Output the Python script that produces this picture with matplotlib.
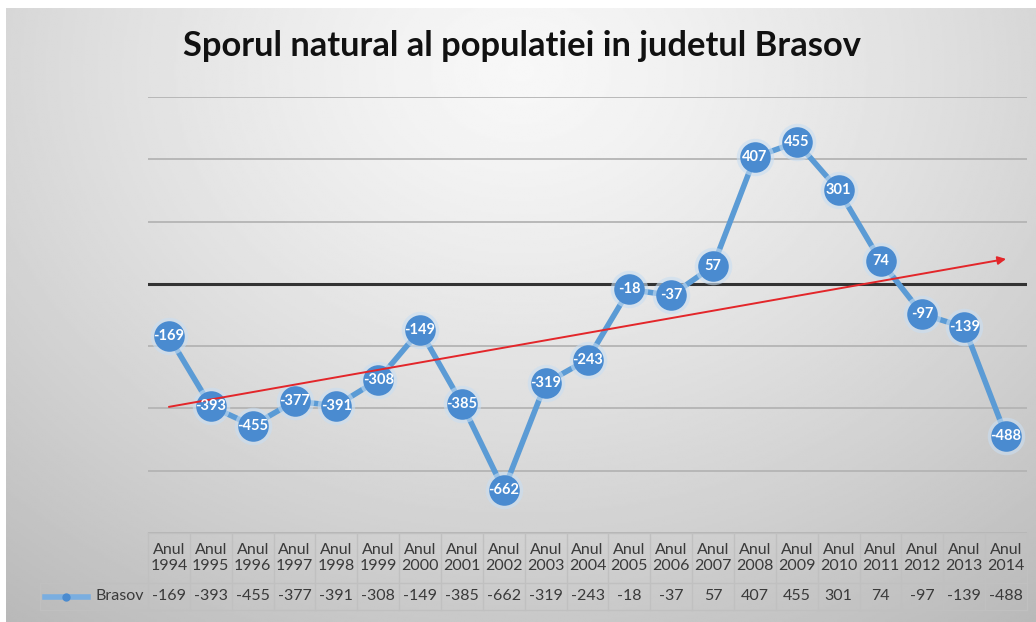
import numpy as np
import matplotlib.pyplot as plt
from matplotlib.transforms import blended_transform_factory
from matplotlib.lines import Line2D

plt.rcParams['font.family'] = ['Lato', 'DejaVu Sans']

TITLE = 'Sporul natural al populatiei in judetul Brasov'
SERIES_NAME = 'Brasov'
years = list(range(1994, 2015))
values = [-169, -393, -455, -377, -391, -308, -149, -385, -662, -319, -243,
          -18, -37, 57, 407, 455, 301, 74, -97, -139, -488]
y_gridlines = [-800, -600, -400, -200, 0, 200, 400, 600]
# hand drawn red arrow in the original, start and end values
trend_start = -395
trend_end = 80

W, H = 1036, 622
fig = plt.figure(figsize=(W / 100, H / 100), dpi=100)
fig.patch.set_facecolor('white')

# radial grey gradient behind the chart
bg = fig.add_axes([6 / W, 0, 1 - 6 / W, 1 - 8 / H])
yy, xx = np.mgrid[0:1:300j, 0:1:500j]
r = np.sqrt(((xx - 0.5) * 1.15) ** 2 + ((yy - 0.1) * 0.85) ** 2)
shade = 0.97 - 0.26 * np.clip(r, 0, 1) ** 1.3
bg.imshow(shade, cmap='gray', vmin=0, vmax=1, aspect='auto', extent=(0, 1, 1, 0))
bg.set_xlim(0, 1)
bg.set_ylim(1, 0)
bg.axis('off')

# plot area in pixels: x 148..1027, y 97..533
ax = fig.add_axes([148 / W, 1 - 533 / H, (1027 - 148) / W, (533 - 97) / H])
ax.patch.set_alpha(0)
for s in ax.spines.values():
    s.set_visible(False)
ax.set_xlim(-0.5, len(years) - 0.5)
ax.set_ylim(-800, 600)
ax.set_yticks(y_gridlines)
ax.set_xticks([])
ax.tick_params(left=False, labelleft=False)
ax.yaxis.grid(True, color='#b4b4b4', lw=1.3)
ax.set_axisbelow(True)
ax.axhline(0, color='#333333', lw=2.2, zorder=1)

x = np.arange(len(years))
ax.plot(x, values, color='#5b9bd5', lw=4, zorder=2, solid_capstyle='round')
ax.plot(x, values, 'o', ms=27, color='#c9def2', alpha=0.6, mec='none', zorder=3)
ax.plot(x, values, 'o', ms=22, color='#4a8bd0', mec='none', zorder=4)
for xi, v in zip(x, values):
    ax.text(xi, v, str(v), ha='center', va='center', color='white',
            fontsize=10.5, fontweight='bold', zorder=6)

ax.annotate('', xy=(len(years) - 1, trend_end), xytext=(0, trend_start),
            arrowprops=dict(arrowstyle='-|>', color='#e3262a', lw=1.4,
                            mutation_scale=12, shrinkA=0, shrinkB=0),
            zorder=5)

fig.text(522 / W, 1 - 46 / H, TITLE, ha='center', va='center',
         fontsize=24.8, fontweight='bold', color='#111111')

# data table under the plot
tr = blended_transform_factory(ax.transData, ax.transAxes)
ph = 533 - 97
r1 = -50 / ph
r2 = -77 / ph
leg_left = -3.08
last = len(years) - 0.5
grid_c = '#c0c0c0'
ax.add_line(Line2D([-0.5, last], [0, 0], transform=tr, color=grid_c, lw=1, clip_on=False))
ax.add_line(Line2D([leg_left, last], [r1, r1], transform=tr, color=grid_c, lw=1, clip_on=False))
ax.add_line(Line2D([leg_left, last], [r2, r2], transform=tr, color=grid_c, lw=1, clip_on=False))
ax.add_line(Line2D([leg_left, leg_left], [r1, r2], transform=tr, color=grid_c, lw=1, clip_on=False))
for i in range(len(years) + 1):
    ax.add_line(Line2D([i - 0.5, i - 0.5], [0, r2], transform=tr, color=grid_c,
                       lw=1, clip_on=False))
for xi, yr, v in zip(x, years, values):
    ax.text(xi, r1 / 2, f'Anul\n{yr}', transform=tr, ha='center', va='center',
            fontsize=11.5, color='#3a3a3a', linespacing=1.25)
    ax.text(xi, (r1 + r2) / 2, str(v), transform=tr, ha='center', va='center',
            fontsize=11.5, color='#3a3a3a')

ax.add_line(Line2D([-2.96, -1.93], [(r1 + r2) / 2] * 2, transform=tr, color='#7aaee0',
                   lw=4, clip_on=False))
ax.add_line(Line2D([-2.45], [(r1 + r2) / 2], transform=tr, marker='o', ms=5,
                   color='#4a8bd0', clip_on=False))
ax.text(-0.6, (r1 + r2) / 2, SERIES_NAME, transform=tr, ha='right', va='center',
        fontsize=11.5, color='#3a3a3a')

fig.savefig('out.png', dpi=100)
